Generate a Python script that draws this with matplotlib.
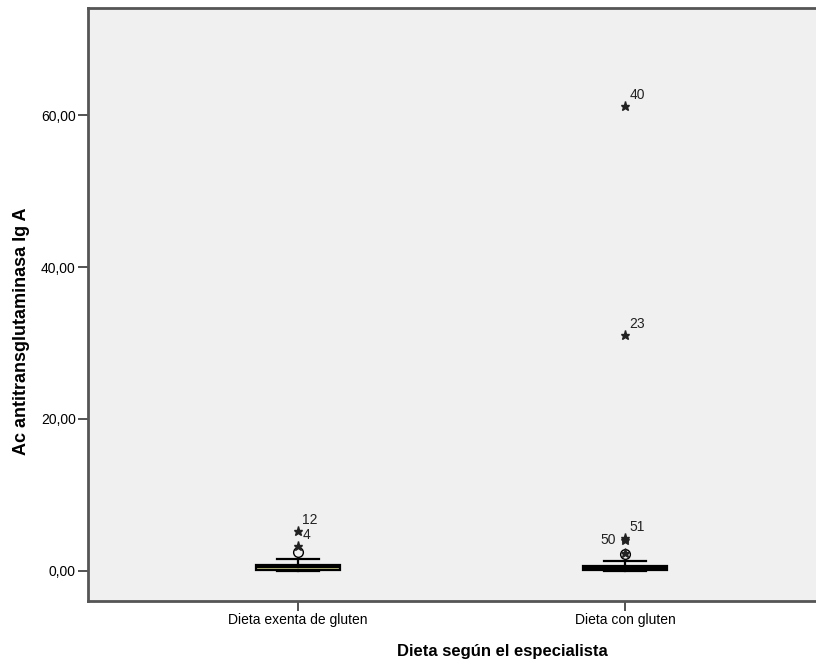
import matplotlib.pyplot as plt
import numpy as np

plt.rcParams['font.family'] = ['Liberation Sans', 'DejaVu Sans']

# data
groups = ['Dieta exenta de gluten', 'Dieta con gluten']
whis_lo = [0.0, 0.0]
q1 = [0.15, 0.1]
med = [0.45, 0.35]
q3 = [0.8, 0.6]
whis_hi = [1.6, 1.3]

# outliers (circles) and extremes (stars), with case labels
circ_vals = [[2.5], [2.2]]
star_vals = [[3.3, 5.3], [2.3, 4.1, 4.35, 31.0, 61.2]]
star_ids = [['4', '12'], ['', '50', '51', '23', '40']]

yticks = [0, 20, 40, 60]
ytick_labels = ['0,00', '20,00', '40,00', '60,00']

fig = plt.figure(figsize=(8.16, 6.64), dpi=100)
ax = fig.add_axes([0.108, 0.095, 0.892, 0.893])
ax.set_facecolor('#f0f0f0')

stats = []
for i in range(len(groups)):
    stats.append(dict(whislo=whis_lo[i], q1=q1[i], med=med[i], q3=q3[i],
                      whishi=whis_hi[i], fliers=[]))

pos = [1, 2]
bp = ax.bxp(stats, positions=pos, widths=0.257, patch_artist=True,
            showfliers=False,
            boxprops=dict(facecolor='#cfcf8a', edgecolor='black', linewidth=1.6),
            medianprops=dict(color='black', linewidth=1.6),
            whiskerprops=dict(color='black', linewidth=1.6),
            capprops=dict(color='black', linewidth=1.6),
            capwidths=0.128)

for i, p in enumerate(pos):
    ax.plot([p] * len(circ_vals[i]), circ_vals[i], 'o', mfc='none', mec='black',
            ms=7, mew=1.0)
    ax.plot([p] * len(star_vals[i]), star_vals[i], '*', color='#222222', ms=6.5)
    for v, lab in zip(star_vals[i], star_ids[i]):
        if lab == '':
            continue
        if lab == '50':
            ax.annotate(lab, (p, v), xytext=(-18, -3), textcoords='offset points',
                        fontsize=10, color='#222222')
        else:
            ax.annotate(lab, (p, v), xytext=(3, 5), textcoords='offset points',
                        fontsize=10, color='#222222')

ax.set_xlim(0.358, 2.584)
ax.set_ylim(-3.95, 74.1)
ax.set_xticks(pos)
ax.set_xticklabels(groups, fontsize=10)
ax.set_yticks(yticks)
ax.set_yticklabels(ytick_labels, fontsize=10)
ax.tick_params(axis='both', direction='out', length=7, width=1.3, color='#444444', pad=2)

for s in ['top', 'left', 'bottom']:
    ax.spines[s].set_color('#555555')
    ax.spines[s].set_linewidth(2)
ax.spines['right'].set_visible(False)

ax.set_xlabel('Dieta según el especialista', fontsize=12, fontweight='bold')
ax.set_ylabel('Ac antitransglutaminasa Ig A', fontsize=13, fontweight='bold')
ax.xaxis.set_label_coords(0.569, -0.073)
ax.yaxis.set_label_coords(-0.08, 0.455)

fig.savefig('out.png', dpi=100)
